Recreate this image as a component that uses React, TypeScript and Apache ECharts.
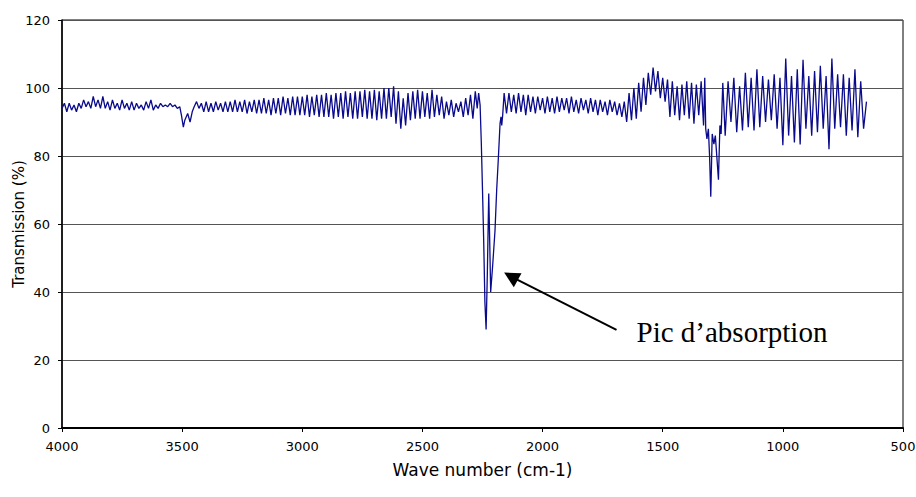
import { useEffect, useRef } from "react";
import * as echarts from "echarts";

// ---- Data (wave number in cm-1, transmission in %) ----
const seg1Start = 4000;
const seg1Step = 10;
const seg1Values = [
  94, 95.5, 93, 95.5, 93.5, 95, 93, 95.5, 94, 96.5, 94.5, 96, 94, 97.5, 94.5, 96.5, 94, 97.5, 94, 96,
  93.5, 96.5, 94, 95.5, 93.5, 96.5, 94, 95.5, 93.5, 96, 93.5, 95.5, 94, 95, 93.5, 96, 94, 96.5, 93.5, 95,
  94, 95.5, 94.5, 95, 94.5, 95.5, 94.5, 95, 94,
];

// Small band near 3500 cm-1
const band3500 = [
  [3510, 94.5], [3503, 92], [3495, 88.5], [3489, 90.5], [3477, 92.5], [3467, 90],
  [3458, 93], [3450, 94.5], [3440, 96],
];

const seg3Start = 3430;
const seg3Step = 10;
const seg3Values = [
  94, 95.5, 93, 96, 93, 95.5, 93, 96, 93.5, 95.5, 93, 96, 93, 96, 93, 96.5, 93, 96, 93, 96.5, 92.5, 96, 93, 96.5,
  92.5, 96.5, 92.5, 97, 92.5, 96.5, 92, 97, 92.5, 97, 92, 97.5, 92.5, 97, 92, 97.5, 92, 97.5, 92, 97.5,
  92, 98, 91.5, 97.5, 92, 98, 91.5, 98, 91.5, 98.5, 91.5, 98, 91, 98.5, 91.5, 98.5, 91, 99, 91.5, 98.5,
  91, 99, 91, 99, 91.5, 99.5, 91, 99, 91, 99.5, 90.5, 99, 91, 100, 91,
  100, 91.5, 100.5, 89.5, 99, 88, 97, 89, 98.5, 90.5, 99, 91, 99.5,
  91, 99, 91.5, 98.5, 91, 99.5, 91.5, 98, 92, 97.5, 91, 96,
  92, 96.5, 91.5, 95.5, 93, 96, 91.5, 97, 92, 98, 91, 99,
];

// Main absorption peak
const mainPeak = [
  [2272, 94], [2266, 98.5], [2260, 95], [2255, 84], [2250, 70], [2245, 55], [2240, 37],
  [2235, 29], [2230, 45], [2224, 69], [2220, 55], [2216, 40], [2208, 47.5], [2198, 58],
  [2191, 70], [2185, 78], [2177, 89.5], [2173, 91.5], [2170, 89], [2166, 92], [2160, 98.5],
];

const seg5Start = 2150;
const seg5Step = 10;
const seg5Values = [
  92.5, 98.5, 93, 98, 92.5, 98.5, 93, 98, 92, 98, 93, 97.5, 92.5, 97.5, 93.5, 97, 92.5, 97.5, 93, 97,
  92.5, 97.5, 93, 97, 93.5, 97, 92.5, 97.5, 93, 96.5, 92.5, 97, 93.5, 96.5, 92.5, 97, 93, 96.5, 92, 96.5,
  93, 96, 92, 96.5, 93, 96, 92, 95.5, 91.5, 96,
];

const seg6Start = 1650;
const seg6Step = 10;
const seg6Values = [
  90, 98.5, 90.5, 100, 91, 101.5, 93, 103, 95, 104.5, 98, 106, 99, 105, 97, 103, 96, 102.5, 91.5, 102,
  92, 100.5, 90.5, 101, 92, 102, 91, 101.5, 89.5, 101, 92, 102, 89,
];

// Band near 1300 cm-1
const band1300 = [
  [1325, 103], [1321, 88], [1316, 85], [1310, 88], [1305, 80], [1300, 68], [1294, 86.5],
  [1287, 83.5], [1281, 86], [1275, 80], [1268, 73], [1262, 89], [1257, 86.5], [1250, 101.5],
];

const seg8Start = 1240;
const seg8Step = 12;
const seg8Values = [
  86, 102, 90, 103, 87, 100.5, 87.5, 104.5, 88.5, 103, 87.5, 105.5, 88.5, 103.5, 90, 102.5, 90.5, 104,
  88, 103, 83.2, 108.7, 86, 103.5, 84, 105.5, 83.4, 108.3, 88, 103.5, 86, 105, 87, 106.5, 88, 103.5,
  82, 108.7, 88, 104, 88.5, 104, 86, 103, 87.5, 105.5, 85.5, 102, 88, 96,
];

const xTicksMin = 500;
const xTicksMax = 4000;
const xInterval = 500;
const yMin = 0;
const yMax = 120;
const yInterval = 20;

const xAxisTitle = "Wave number (cm-1)";
const yAxisTitle = "Transmission (%)";
const annotationText = "Pic d\u2019absorption";
const annotationTarget = [2160, 45.7];

function sampled(start: number, step: number, values: number[]) {
  return values.map((v, i) => [start - i * step, v]);
}

const spectrum: number[][] = [
  ...sampled(seg1Start, seg1Step, seg1Values),
  ...band3500,
  ...sampled(seg3Start, seg3Step, seg3Values),
  ...mainPeak,
  ...sampled(seg5Start, seg5Step, seg5Values),
  ...sampled(seg6Start, seg6Step, seg6Values),
  ...band1300,
  ...sampled(seg8Start, seg8Step, seg8Values),
];

const uiFont = "'DejaVu Sans', sans-serif";

export default function App() {
  const ref = useRef<HTMLDivElement>(null);

  useEffect(() => {
    if (!ref.current) return;
    const chart = echarts.init(ref.current, null, { renderer: "svg" });
    chart.setOption({
      animation: false,
      backgroundColor: "#ffffff",
      grid: {
        left: 62,
        right: 13,
        top: 20,
        bottom: 69,
        show: true,
        borderColor: "#000000",
        borderWidth: 1,
        containLabel: false,
        outerBoundsMode: "none",
      },
      xAxis: {
        type: "value",
        min: xTicksMin,
        max: xTicksMax,
        interval: xInterval,
        inverse: true,
        name: xAxisTitle,
        nameLocation: "middle",
        nameGap: 33,
        nameTextStyle: { color: "#000", fontSize: 17, fontFamily: uiFont },
        axisLine: { show: true, onZero: false, lineStyle: { color: "#000", width: 2 } },
        axisTick: { show: true, inside: false, length: 4, lineStyle: { color: "#000", width: 1 } },
        axisLabel: {
          color: "#000",
          fontSize: 13,
          fontFamily: uiFont,
          margin: 12,
          formatter: (v: number) => String(v),
        },
        splitLine: { show: false },
      },
      yAxis: {
        type: "value",
        min: yMin,
        max: yMax,
        interval: yInterval,
        name: yAxisTitle,
        nameLocation: "middle",
        nameGap: 36,
        nameMoveOverlap: false,
        nameRotate: 90,
        nameTextStyle: { color: "#000", fontSize: 15, fontFamily: uiFont },
        axisLine: { show: true, onZero: false, lineStyle: { color: "#000", width: 1.5 } },
        axisTick: { show: true, inside: false, length: 4, lineStyle: { color: "#000", width: 1 } },
        axisLabel: {
          color: "#000",
          fontSize: 13,
          fontFamily: uiFont,
          margin: 12,
          formatter: (v: number) => String(v),
        },
        splitLine: { show: true, lineStyle: { color: "#555555", width: 1.2 } },
      },
      series: [
        {
          type: "line",
          data: spectrum,
          showSymbol: false,
          symbol: "none",
          silent: true,
          lineStyle: { color: "#0a0a8c", width: 1.3 },
        },
      ],
    });

    const tip = chart.convertToPixel({ gridIndex: 0 }, annotationTarget) as number[];
    const tx = tip[0];
    const ty = tip[1];
    chart.setOption({
      graphic: [
        {
          type: "polygon",
          shape: { points: [[tx, ty], [tx + 17.4, ty + 0.6], [tx + 9.7, ty + 14.6]] },
          style: { fill: "#000" },
          silent: true,
        },
        {
          type: "line",
          shape: { x1: tx + 12, y1: ty + 6.5, x2: tx + 112.4, y2: ty + 57.3 },
          style: { stroke: "#000", lineWidth: 2 },
          silent: true,
        },
        {
          type: "text",
          x: tx + 132.4,
          y: ty + 59,
          style: {
            text: annotationText,
            font: "29px 'Liberation Serif', 'Times New Roman', serif",
            fill: "#000",
            verticalAlign: "middle",
            align: "left",
          },
          silent: true,
        },
      ],
    });

    return () => chart.dispose();
  }, []);

  return <div ref={ref} style={{ width: 916, height: 497, position: "absolute", left: 0, top: 0 }} />;
}
